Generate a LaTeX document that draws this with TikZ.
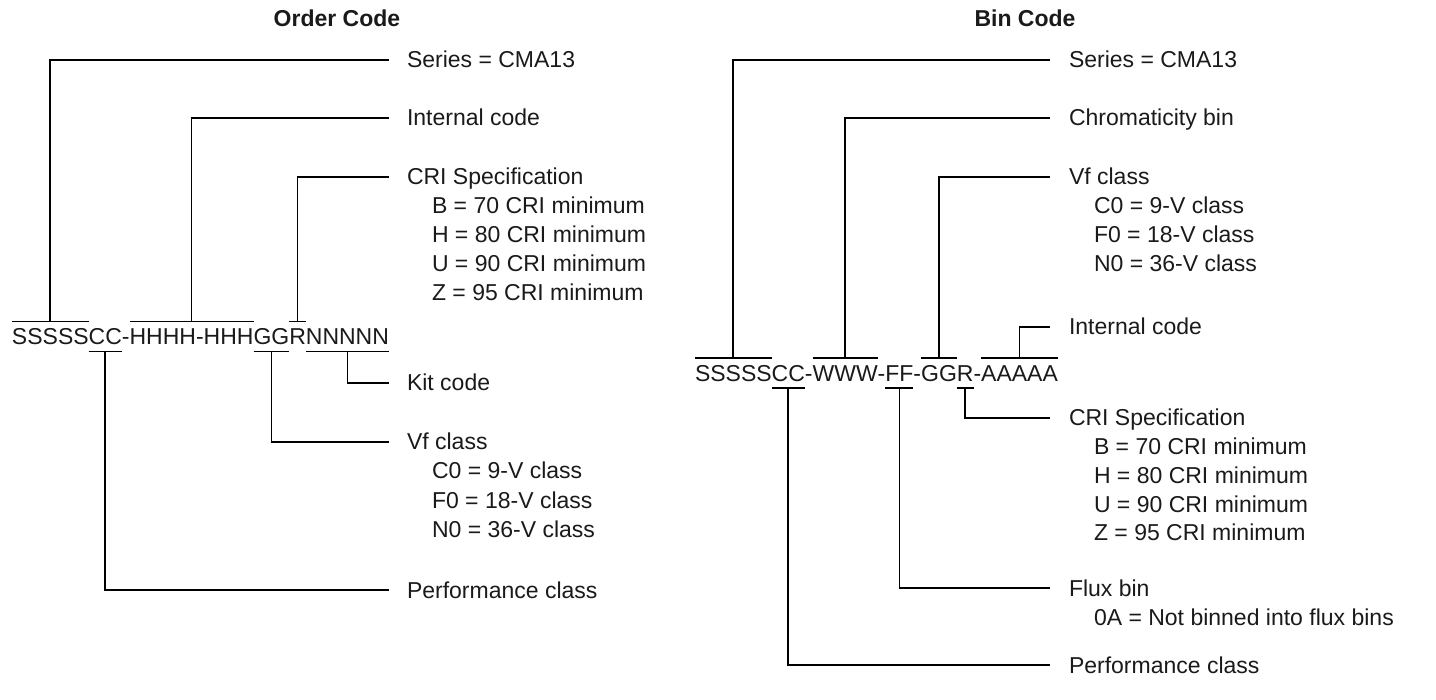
\documentclass[tikz,border=0pt]{standalone}
\usepackage{fontspec}
\setmainfont{Liberation Sans}
\usetikzlibrary{calc}
\definecolor{txt}{HTML}{1A1A1A}
\newcommand\myobar[1]{\draw[conn] ($(#1.base west)+(0,-23.5)$) -- ($(#1.base east)+(0,-23.5)$);}
\newcommand\myubar[1]{\draw[conn] ($(#1.base west)+(0,6.5)$) -- ($(#1.base east)+(0,6.5)$);}
\begin{document}
\begin{tikzpicture}[x=1pt,y=-1pt,
  every node/.style={inner sep=0pt, outer sep=0pt, font=\fontsize{23}{27}\selectfont, text=txt},
  conn/.style={line width=1.8pt, draw=black},
  seg/.style={anchor=base west},
  lbl/.style={anchor=base west},
  ttl/.style={anchor=base, font=\fontsize{23}{27}\selectfont\bfseries}]
\useasboundingbox (0,0) rectangle (1436,700);

% titles
\node[ttl] (t1) at (337,27) {Order Code};
\node[ttl] (t2) at (1025,27) {Bin Code};

% ---------- left code ----------
\node[seg] (a1) at (12,345) {SSSSS};
\node[seg] (a2) at (a1.base east) {CC};
\node[seg] (a3) at (a2.base east) {-};
\node[seg] (a4) at (a3.base east) {HHHH-HHH};
\node[seg] (a5) at (a4.base east) {GG};
\node[seg] (a6) at (a5.base east) {R};
\node[seg] (a7) at (a6.base east) {NNNNN};
\myobar{a1}\myubar{a2}\myobar{a4}\myubar{a5}\myobar{a6}\myubar{a7}

% left labels
\node[lbl] (lser) at (407,68) {Series = CMA13};
\node[lbl] (lint) at (407,126) {Internal code};
\node[lbl] (lcri) at (407,185) {CRI Specification};
\node[lbl] (lcri1) at (432,214) {B = 70 CRI minimum};
\node[lbl] (lcri2) at (432,243) {H = 80 CRI minimum};
\node[lbl] (lcri3) at (432,272) {U = 90 CRI minimum};
\node[lbl] (lcri4) at (432,301) {Z = 95 CRI minimum};
\node[lbl] (lkit) at (407,391) {Kit code};
\node[lbl] (lvf) at (407,450) {Vf class};
\node[lbl] (lvf1) at (432,479) {C0 = 9-V class};
\node[lbl] (lvf2) at (432,508) {F0 = 18-V class};
\node[lbl] (lvf3) at (432,537) {N0 = 36-V class};
\node[lbl] (lperf) at (407,598) {Performance class};

\draw[conn] ($(a1.base)+(0,-23.5)$) |- ($(lser.base west)+(-18,-8.2)$);
\draw[conn] ($(a4.base)+(0,-23.5)$) |- ($(lint.base west)+(-18,-8.2)$);
\draw[conn] ($(a6.base)+(0,-23.5)$) |- ($(lcri.base west)+(-18,-8.2)$);
\draw[conn] ($(a7.base)+(0,6.5)$) |- ($(lkit.base west)+(-18,-8.2)$);
\draw[conn] ($(a5.base)+(0,6.5)$) |- ($(lvf.base west)+(-18,-8.2)$);
\draw[conn] ($(a2.base)+(0,6.5)$) |- ($(lperf.base west)+(-18,-8.2)$);

% ---------- right code ----------
\node[seg] (b1) at (695,381.5) {SSSSS};
\node[seg] (b2) at (b1.base east) {CC};
\node[seg] (b3) at (b2.base east) {-};
\node[seg] (b4) at (b3.base east) {WWW};
\node[seg] (b5) at (b4.base east) {-};
\node[seg] (b6) at (b5.base east) {FF};
\node[seg] (b7) at (b6.base east) {-};
\node[seg] (b8) at (b7.base east) {GG};
\node[seg] (b9) at (b8.base east) {R};
\node[seg] (b10) at (b9.base east) {-};
\node[seg] (b11) at (b10.base east) {AAAAA};
\myobar{b1}\myubar{b2}\myobar{b4}\myubar{b6}\myobar{b8}\myubar{b9}\myobar{b11}

% right labels
\node[lbl] (rser) at (1069,68) {Series = CMA13};
\node[lbl] (rchr) at (1069,126) {Chromaticity bin};
\node[lbl] (rvf) at (1069,185) {Vf class};
\node[lbl] (rvf1) at (1094,214) {C0 = 9-V class};
\node[lbl] (rvf2) at (1094,243) {F0 = 18-V class};
\node[lbl] (rvf3) at (1094,272) {N0 = 36-V class};
\node[lbl] (rint) at (1069,335) {Internal code};
\node[lbl] (rcri) at (1069,426) {CRI Specification};
\node[lbl] (rcri1) at (1094,455) {B = 70 CRI minimum};
\node[lbl] (rcri2) at (1094,483.5) {H = 80 CRI minimum};
\node[lbl] (rcri3) at (1094,512) {U = 90 CRI minimum};
\node[lbl] (rcri4) at (1094,540.5) {Z = 95 CRI minimum};
\node[lbl] (rflux) at (1069,596) {Flux bin};
\node[lbl] (rflux1) at (1094,625) {0A = Not binned into flux bins};
\node[lbl] (rperf) at (1069,673) {Performance class};

\draw[conn] ($(b1.base)+(0,-23.5)$) |- ($(rser.base west)+(-19,-8.2)$);
\draw[conn] ($(b4.base)+(0,-23.5)$) |- ($(rchr.base west)+(-19,-8.2)$);
\draw[conn] ($(b8.base)+(0,-23.5)$) |- ($(rvf.base west)+(-19,-8.2)$);
\draw[conn] ($(b11.base)+(0,-23.5)$) |- ($(rint.base west)+(-19,-8.2)$);
\draw[conn] ($(b9.base)+(0,6.5)$) |- ($(rcri.base west)+(-19,-8.2)$);
\draw[conn] ($(b6.base)+(0,6.5)$) |- ($(rflux.base west)+(-19,-8.2)$);
\draw[conn] ($(b2.base)+(0,6.5)$) |- ($(rperf.base west)+(-19,-8.2)$);
\end{tikzpicture}
\end{document}
